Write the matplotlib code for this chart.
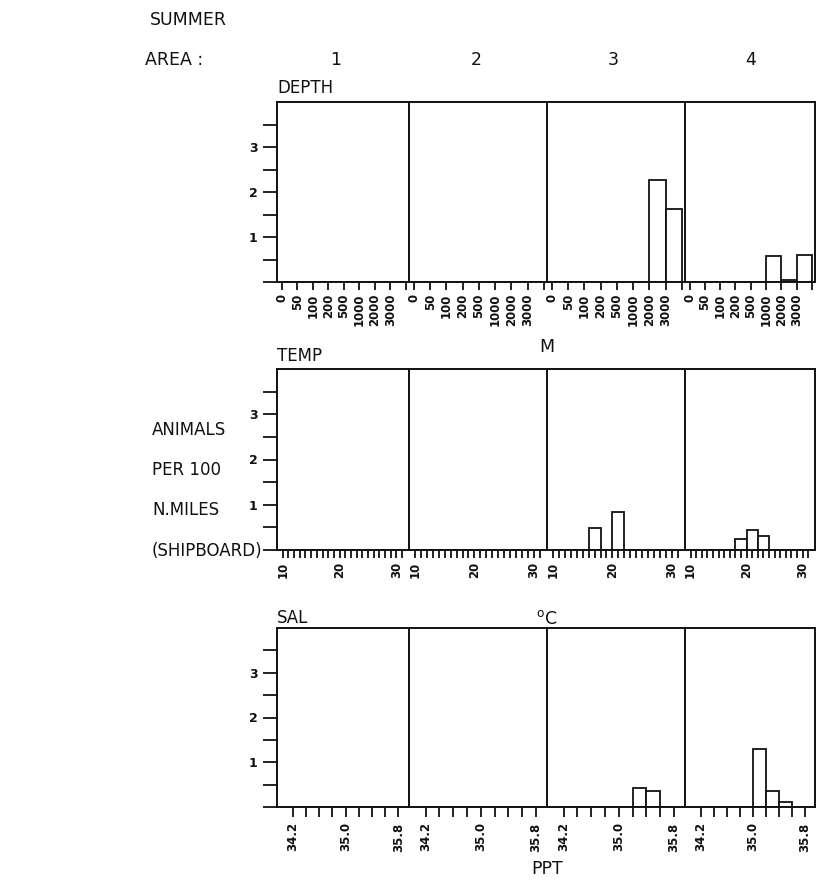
import matplotlib
matplotlib.use('Agg')
import matplotlib.pyplot as plt
import numpy as np

# ---------------- data ----------------
areas = ['1', '2', '3', '4']

depth_labels = ['0', '50', '100', '200', '500', '1000', '2000', '3000']
depth_area1 = [0, 0, 0, 0, 0, 0, 0, 0]
depth_area2 = [0, 0, 0, 0, 0, 0, 0, 0]
depth_area3 = [0, 0, 0, 0, 0, 0, 2.27, 1.63]
depth_area4 = [0, 0, 0, 0, 0, 0.57, 0.05, 0.60]

temp_bin_left = [10, 12, 14, 16, 18, 20, 22, 24, 26, 28]
temp_bin_width = 2
temp_area1 = [0, 0, 0, 0, 0, 0, 0, 0, 0, 0]
temp_area2 = [0, 0, 0, 0, 0, 0, 0, 0, 0, 0]
temp_area3 = [0, 0, 0, 0.48, 0, 0.85, 0, 0, 0, 0]
temp_area4 = [0, 0, 0, 0, 0.24, 0.44, 0.32, 0, 0, 0]
temp_ticks = [10, 20, 30]
temp_tick_labels = ['10', '20', '30']

sal_bin_left = [34.2, 34.4, 34.6, 34.8, 35.0, 35.2, 35.4, 35.6]
sal_bin_width = 0.2
sal_area1 = [0, 0, 0, 0, 0, 0, 0, 0]
sal_area2 = [0, 0, 0, 0, 0, 0, 0, 0]
sal_area3 = [0, 0, 0, 0, 0, 0.43, 0.36, 0]
sal_area4 = [0, 0, 0, 0, 1.29, 0.36, 0.11, 0]
sal_ticks = [34.2, 35.0, 35.8]
sal_tick_labels = ['34.2', '35.0', '35.8']

y_ticks = [0, 0.5, 1, 1.5, 2, 2.5, 3, 3.5]
y_tick_labels = ['', '', '1', '', '2', '', '3', '']

# ---------------- layout ----------------
W, H = 822, 889
fig = plt.figure(figsize=(W / 100, H / 100), dpi=100)
fig.patch.set_facecolor('white')
INK = '#111111'
plt.rcParams['font.family'] = ['DejaVu Sans']

col_edges = [277, 409, 547, 685, 815]
rows = {'depth': (102, 282), 'temp': (369, 550), 'sal': (628, 807)}


def make_ax(col, row):
    top, bot = rows[row]
    x0, x1 = col_edges[col], col_edges[col + 1]
    ax = fig.add_axes([x0 / W, 1 - bot / H, (x1 - x0) / W, (bot - top) / H])
    ax.set_ylim(0, 4)
    for s in ax.spines.values():
        s.set_color(INK)
        s.set_linewidth(1.4)
    if col < 3:
        ax.spines['right'].set_visible(False)
    ax.tick_params(axis='both', which='both', direction='out', length=5.5,
                   width=1.3, color=INK)
    if col == 0:
        ax.set_yticks(y_ticks)
        ax.set_yticklabels(y_tick_labels, fontsize=9, fontweight='bold', color=INK)
        ax.tick_params(axis='y', length=10, pad=4)
    else:
        ax.tick_params(axis='y', left=False, labelleft=False)
    return ax


bar_kw = dict(align='edge', facecolor='white', edgecolor=INK, linewidth=1.3)
tick_font = dict(fontsize=8.5, fontweight='bold', color=INK, rotation=90)

# depth row
for i, vals in enumerate([depth_area1, depth_area2, depth_area3, depth_area4]):
    ax = make_ax(i, 'depth')
    ax.bar(np.arange(len(depth_labels)), vals, width=1.0, **bar_kw)
    ax.set_xlim(-0.3, 8.2)
    ax.set_xticks(np.arange(len(depth_labels) + 1))
    ax.set_xticklabels(depth_labels + [''], **tick_font)
    ax.tick_params(axis='x', pad=3)

# temp row
for i, vals in enumerate([temp_area1, temp_area2, temp_area3, temp_area4]):
    ax = make_ax(i, 'temp')
    ax.bar(temp_bin_left, vals, width=temp_bin_width, **bar_kw)
    ax.set_xlim(9.0, 32.2)
    ax.set_xticks(temp_ticks)
    ax.set_xticklabels(temp_tick_labels, **tick_font)
    ax.set_xticks(np.arange(10, 32), minor=True)
    ax.tick_params(axis='x', which='both', pad=3)

# salinity row
for i, vals in enumerate([sal_area1, sal_area2, sal_area3, sal_area4]):
    ax = make_ax(i, 'sal')
    ax.bar(sal_bin_left, vals, width=sal_bin_width, **bar_kw)
    ax.set_xlim(33.96, 35.96)
    ax.set_xticks(sal_ticks)
    ax.set_xticklabels(sal_tick_labels, **tick_font)
    ax.set_xticks(np.round(np.arange(34.2, 35.81, 0.2), 1), minor=True)
    ax.tick_params(axis='x', which='both', pad=4, length=7)

# ---------------- texts ----------------
def ftext(x, y, s, size=12, ha='left', **kw):
    fig.text(x / W, 1 - y / H, s, fontsize=size, ha=ha, va='center',
             color=INK, **kw)


ftext(150, 20, 'SUMMER', 12.5)
ftext(145, 60, 'AREA :', 12.5)
for x, a in zip([336, 476, 613, 751], areas):
    ftext(x, 60, a, 12.5, ha='center')

ftext(277, 88, 'DEPTH', 12)
ftext(277, 356, 'TEMP', 12)
ftext(277, 618, 'SAL', 12)

ftext(547, 347, 'M', 12.5, ha='center')
ftext(547, 619, '$^{\\mathrm{o}}$C', 12.5, ha='center')
ftext(547, 869, 'PPT', 12.5, ha='center')

ftext(152, 430, 'ANIMALS', 12)
ftext(152, 470, 'PER 100', 12)
ftext(152, 510, 'N.MILES', 12)
ftext(152, 551, '(SHIPBOARD)', 12)

fig.savefig('out.png', dpi=100, facecolor='white')
